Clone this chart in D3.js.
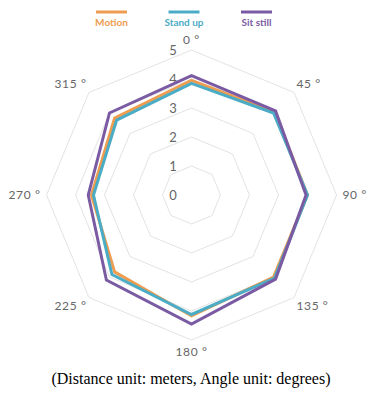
<!DOCTYPE html>
<html><head><meta charset="utf-8">
<script src="https://cdn.jsdelivr.net/npm/d3@7"></script>
<style>body{margin:0;background:#fff}svg{display:block}</style>
</head><body>
<svg id="c" width="372" height="393"></svg>
<script>
const angles = ["0°","45°","90°","135°","180°","225°","270°","315°"];
const seriesNames = ["Motion","Stand up","Sit still"];
const motion = [3.95, 4.05, 4.0, 4.0, 4.17, 3.75, 3.45, 3.75];
const standUp = [3.85, 4.0, 4.0, 4.05, 4.12, 3.88, 3.38, 3.65];
const sitStill = [4.12, 4.1, 3.95, 4.1, 4.45, 4.15, 3.56, 4.0];
const ticks = [0,1,2,3,4,5];
const colors = ["#EE9C50","#4BACC6","#7A5BA3"];
const series = [motion, standUp, sitStill];

const svg = d3.select("#c");
const cx = 191.5, cy = 195;
const r = d3.scaleLinear().domain([0,5]).range([0,145]);
const ang = d3.scalePoint().domain(angles).range([0, 2*Math.PI*7/8]);
const pt = (a, v) => [cx + r(v)*Math.sin(ang(a)), cy - r(v)*Math.cos(ang(a))];
const font = "Lato, Carlito, 'Open Sans', sans-serif";

const g = svg.append("g");
ticks.slice(1).forEach(t => {
  g.append("polygon")
    .attr("points", angles.map(a => pt(a,t).join(",")).join(" "))
    .attr("fill","none").attr("stroke","#E3E3E3").attr("stroke-width",1);
});
ticks.forEach(t => {
  g.append("text").attr("x",173).attr("y",cy - r(t)).attr("dy","0.35em")
    .attr("text-anchor","middle").attr("font-family",font)
    .attr("font-size",13).attr("fill","#666").text(t);
});
angles.forEach((a,i) => {
  const th = ang(a);
  const rr = 157;
  let x = cx + rr*Math.sin(th), y = cy - rr*Math.cos(th);
  let anchor = "middle";
  if (i===1 || i===2 || i===3) { anchor = "start"; x -= 6; }
  if (i===5 || i===6 || i===7) { anchor = "end"; x += 6; }
  if (i===0) y += 2;
  g.append("text").attr("x",x).attr("y",y).attr("dy","0.35em")
    .attr("text-anchor",anchor).attr("font-family",font)
    .attr("font-size",12).attr("letter-spacing",0.6).attr("fill","#666").text(a.replace("°"," °"));
});
const line = d3.lineRadial().angle((d,i)=>ang(angles[i])).radius(d=>r(d)).curve(d3.curveLinearClosed);
series.forEach((s,k) => {
  svg.append("path").attr("transform",`translate(${cx},${cy})`)
    .attr("d", line(s)).attr("fill","none").attr("stroke",colors[k])
    .attr("stroke-width",3).attr("stroke-linejoin","miter");
});
const lx = [111.5, 184, 256.5];
seriesNames.forEach((n,k) => {
  svg.append("line").attr("x1",lx[k]-15.5).attr("x2",lx[k]+15.5).attr("y1",12).attr("y2",12)
    .attr("stroke",colors[k]).attr("stroke-width",3);
  svg.append("text").attr("x",lx[k]).attr("y",26).attr("text-anchor","middle")
    .attr("font-family",font).attr("font-weight","bold")
    .attr("font-size",10).attr("fill",colors[k]).text(n);
});
svg.append("text").attr("x",191).attr("y",384).attr("text-anchor","middle")
  .attr("font-family","Liberation Serif, Times New Roman, serif").attr("font-size",16)
  .attr("fill","#000").text("(Distance unit: meters, Angle unit: degrees)");
</script>
</body></html>
